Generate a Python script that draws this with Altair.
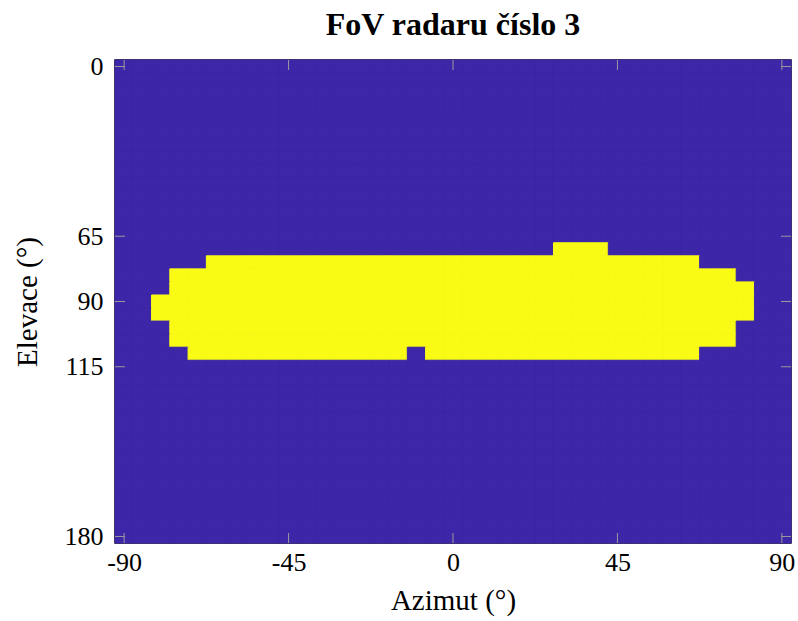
import altair as alt
import pandas as pd

# Grid of cell centres (degrees)
azimuths = list(range(-90, 95, 5))
elevations = list(range(0, 185, 5))

# Yellow (in field of view) rows: elevation, first and last azimuth
fov_elev = [70, 75, 80, 85, 90, 95, 100, 105, 110]
fov_start = [30, -65, -75, -75, -80, -80, -75, -75, -70]
fov_end = [40, 65, 75, 80, 80, 80, 75, 75, 65]
# cells missing inside a row (elevation, azimuth)
fov_holes = [(110, -10)]

x_ticks = [-90, -45, 0, 45, 90]
y_ticks = [0, 65, 90, 115, 180]

CELL = 5
BLUE = "#3e26a8"
YELLOW = "#f9fb15"
FONT = "Liberation Serif"
W, H = 676, 483

rows = []
for el in elevations:
    for az in azimuths:
        v = 0
        if el in fov_elev:
            i = fov_elev.index(el)
            if fov_start[i] <= az <= fov_end[i] and (el, az) not in fov_holes:
                v = 1
        rows.append({"az0": az - CELL / 2, "az1": az + CELL / 2,
                     "el0": el - CELL / 2, "el1": el + CELL / 2, "v": v})
df = pd.DataFrame(rows)

xscale = alt.Scale(domain=[-92.5, 92.5], nice=False, zero=False)
yscale = alt.Scale(domain=[-2.5, 182.5], nice=False, zero=False, reverse=True)
cscale = alt.Scale(domain=[0, 1], range=[BLUE, YELLOW])

cells = alt.Chart(df).mark_rect(strokeWidth=1).encode(
    x=alt.X("az0:Q", scale=xscale,
            axis=alt.Axis(values=x_ticks, title="Azimut (°)", ticks=False, domain=False,
                          grid=False, labelExpr="'' + datum.value", labelPadding=6,
                          titlePadding=11, labelFont=FONT, labelFontSize=26,
                          labelColor="black", titleFont=FONT, titleFontSize=29,
                          titleFontWeight="normal", titleColor="black")),
    x2="az1:Q",
    y=alt.Y("el0:Q", scale=yscale,
            axis=alt.Axis(values=y_ticks, title="Elevace (°)", ticks=False, domain=False,
                          grid=False, labelExpr="'' + datum.value", labelPadding=12,
                          titlePadding=22, labelFont=FONT, labelFontSize=26,
                          labelColor="black", titleFont=FONT, titleFontSize=29,
                          titleFontWeight="normal", titleColor="black")),
    y2="el1:Q",
    color=alt.Color("v:N", scale=cscale, legend=None),
    stroke=alt.Stroke("v:N", scale=cscale, legend=None),
)

xt = pd.DataFrame({"t": x_ticks})
yt = pd.DataFrame({"t": y_ticks})
TICK = 10
tc = "#9a9a9a"
xb = alt.Chart(xt).mark_rule(color=tc, strokeWidth=1).encode(
    x=alt.X("t:Q", scale=xscale), y=alt.value(H - TICK), y2=alt.value(H))
xtop = alt.Chart(xt).mark_rule(color=tc, strokeWidth=1).encode(
    x=alt.X("t:Q", scale=xscale), y=alt.value(0), y2=alt.value(TICK))
yl = alt.Chart(yt).mark_rule(color=tc, strokeWidth=1).encode(
    y=alt.Y("t:Q", scale=yscale), x=alt.value(0), x2=alt.value(TICK))
yr = alt.Chart(yt).mark_rule(color=tc, strokeWidth=1).encode(
    y=alt.Y("t:Q", scale=yscale), x=alt.value(W - TICK), x2=alt.value(W))

chart = alt.layer(cells, xb, xtop, yl, yr).properties(
    width=W, height=H,
    background="white",
    title=alt.Title("FoV radaru číslo 3", font=FONT, fontSize=32, fontWeight="bold",
                    color="black", anchor="middle", offset=12),
    autosize=alt.AutoSizeParams(type="none"),
    padding={"left": 115, "top": 60, "right": 7, "bottom": 78},
).configure_view(
    stroke="black", strokeWidth=1.5, fill=BLUE
)

chart.save("out.html", embed_options={"renderer": "svg", "actions": False})
